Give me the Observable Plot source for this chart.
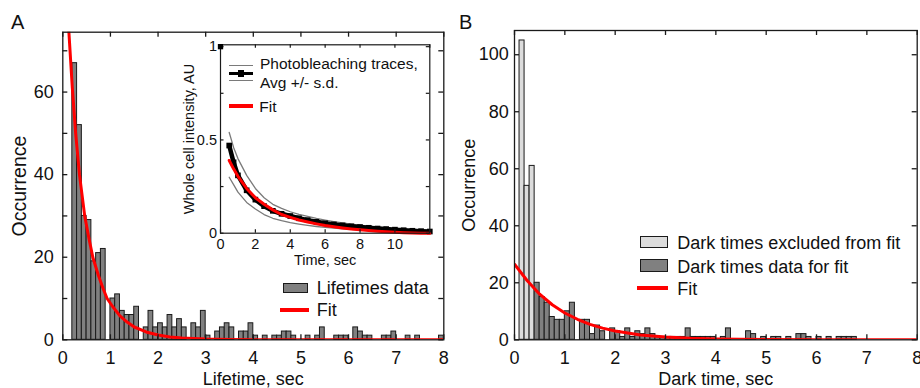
<!DOCTYPE html>
<html><head><meta charset="utf-8">
<script src="https://cdn.jsdelivr.net/npm/d3@7"></script>
<script src="https://cdn.jsdelivr.net/npm/@observablehq/plot@0.6"></script>
<style>
body{margin:0;background:#fff;font-family:"Liberation Sans",Arial,Helvetica,sans-serif;}
#wrap{position:relative;width:920px;height:388px;overflow:hidden;background:#fff}
.abs{position:absolute}
.t{position:absolute;line-height:1;white-space:nowrap;color:#111}
.sw{position:absolute;box-sizing:border-box;border:1.5px solid #1a1a1a}
.ln{position:absolute}
</style></head><body>
<div id="wrap">
  <div id="pa" class="abs" style="left:0;top:0"></div>
  <div id="pb" class="abs" style="left:460px;top:0"></div>
  <div id="pi" class="abs" style="left:170px;top:30px"></div>

  <div class="t" style="left:11px;top:12.4px;font-size:20px">A</div>
  <div class="t" style="left:459px;top:12.4px;font-size:20px">B</div>

  <!-- legend A -->
  <div class="sw" style="left:282.7px;top:282.7px;width:25.6px;height:10.6px;background:#808080"></div>
  <div class="t" style="left:316.7px;top:278.8px;font-size:18px">Lifetimes data</div>
  <div class="ln" style="left:280px;top:308.2px;width:29.3px;height:3.6px;background:#ff0000"></div>
  <div class="t" style="left:316.7px;top:300.8px;font-size:18px">Fit</div>

  <!-- inset legend -->
  <div class="ln" style="left:229.3px;top:65px;width:23.4px;height:1.4px;background:#7a7a7a"></div>
  <div class="ln" style="left:229.3px;top:71.8px;width:23.4px;height:3px;background:#000"></div>
  <div class="ln" style="left:237.8px;top:70px;width:6.5px;height:6.5px;background:#000"></div>
  <div class="ln" style="left:229.3px;top:80px;width:23.4px;height:1.4px;background:#7a7a7a"></div>
  <div class="t" style="left:260px;top:55.9px;font-size:15.5px">Photobleaching traces,</div>
  <div class="t" style="left:260px;top:75.2px;font-size:15.5px">Avg +/- s.d.</div>
  <div class="ln" style="left:229.3px;top:104.3px;width:23.4px;height:3.4px;background:#ff0000"></div>
  <div class="t" style="left:259.3px;top:98.6px;font-size:15.5px">Fit</div>

  <!-- legend B -->
  <div class="sw" style="left:640px;top:236px;width:28.3px;height:12.3px;background:#dcdcdc"></div>
  <div class="t" style="left:677.3px;top:234px;font-size:18px">Dark times excluded from fit</div>
  <div class="sw" style="left:640px;top:259.3px;width:28.3px;height:12.4px;background:#808080"></div>
  <div class="t" style="left:677.3px;top:257.5px;font-size:18px">Dark times data for fit</div>
  <div class="ln" style="left:636.7px;top:286.4px;width:31.6px;height:3.8px;background:#ff0000"></div>
  <div class="t" style="left:677.3px;top:279.8px;font-size:18px">Fit</div>
</div>
<script>
// ---------- DATA ----------
const binWidth = 0.1;
// Panel A: lifetime histogram (bin start, sec) and counts
const lifeBins = [0.2,0.3,0.4,0.5,0.6,0.7,0.8,1.0,1.1,1.2,1.3,1.4,1.5,1.7,1.8,1.9,2.0,2.1,2.2,2.3,2.4,2.5,2.7,2.8,2.9,3.0,3.2,3.3,3.4,3.5,3.7,3.8,3.9,4.0,4.2,4.4,4.5,4.6,4.7,4.8,5.1,5.3,5.4,5.7,5.8,5.9,6.1,6.2,6.3,6.4,6.7,6.8,6.9,7.2,7.4,7.9];
const lifeCounts = [67,52,30,29,19,21,22,10,11,7,6,6,8,3,7,3,4,3,6,3,5,3,4,3,7,1,2,3,4,3,2,2,4,1,1,1,1,2,2,1,1,1,3,1,1,1,3,2,1,1,1,1,2,1,1,1];
// Panel A: exponential fit
const fitATime = [0.12,0.2,0.27,0.35,0.46,0.55,0.63,0.75,0.85,0.93,1.05,1.2,1.35,1.5,1.75,2,2.25,2.5,3,3.5,4,5,6,7,8];
const fitAVal  = [76,61,50,40,30,24.5,20,15.5,12.3,10,8,5.8,4.3,3.1,1.9,1.15,0.7,0.45,0.17,0.07,0.03,0.01,0,0,0];
// Inset: photobleaching traces
const insetTime = [0.5,0.75,1,1.5,2,2.5,3,3.5,4,4.5,5,5.5,6,6.5,7,7.5,8,8.5,9,9.5,10,10.5,11,11.5,12];
const avgVal  = [0.47,0.38,0.31,0.23,0.18,0.145,0.12,0.104,0.092,0.08,0.07,0.061,0.053,0.047,0.042,0.037,0.033,0.029,0.025,0.022,0.019,0.016,0.013,0.011,0.009];
const hiVal   = [0.54,0.46,0.40,0.31,0.24,0.19,0.155,0.133,0.115,0.101,0.09,0.079,0.07,0.062,0.055,0.049,0.043,0.038,0.033,0.029,0.025,0.021,0.018,0.015,0.012];
const loVal   = [0.30,0.26,0.22,0.165,0.13,0.1,0.08,0.067,0.057,0.049,0.042,0.036,0.031,0.027,0.023,0.02,0.017,0.014,0.012,0.01,0.008,0.006,0.005,0.004,0.003];
const fitIVal = [0.39,0.345,0.305,0.24,0.19,0.155,0.125,0.1,0.085,0.071,0.06,0.05,0.041,0.034,0.028,0.023,0.018,0.014,0.011,0.008,0.005,0.003,0.001,0,0];
const avgStartTime = [0], avgStartVal = [1];
// Panel B: dark time histogram
const darkExclBins = [0.1,0.2,0.3];
const darkExclCounts = [105,54,61];
const darkBins = [0.4,0.5,0.6,0.7,0.8,0.9,1.0,1.1,1.3,1.4,1.5,1.6,1.7,1.9,2.0,2.1,2.2,2.3,2.4,2.5,2.6,2.7,2.8,2.9,3.0,3.1,3.2,3.3,3.4,3.5,3.6,3.7,3.8,3.9,4.1,4.2,4.6,4.7,4.9,5.1,5.2,5.4,5.6,5.7,5.8,6.0,6.2,6.4,6.5,6.6,6.7];
const darkCounts = [20,15,13,8,7,7,10,13,7,7,2,5,3,4,3,1,4,1,3,2,4,2,1,1,1,1,1,1,4,1,1,1,1,1,1,4,3,2,1,1,1,1,2,2,1,1,1,1,1,1,1];
const fitBTime = [0,0.25,0.5,0.75,1,1.25,1.5,1.75,2,2.5,3,3.5,4,5,6,7,8];
const fitBVal  = [26.5,20.8,16,12.3,9.4,7.2,5.4,4.1,3.1,1.7,1.0,0.55,0.32,0.1,0.03,0,0];
// Tick values
const xTicksMain = [0,1,2,3,4,5,6,7,8];
const yTicksA = [0,10,20,30,40,50,60,70];
const yLabelsA = [0,20,40,60];
const yTicksB = [0,20,40,60,80,100];
const xTicksInset = [0,2,4,6,8,10,12];
const xLabelsInset = [0,2,4,6,8,10];
const yTicksInset = [0,0.25,0.5,0.75,1];
const yLabelsInset = [0,0.5,1];

// ---------- helpers ----------
const FONT = '"Liberation Sans", Arial, Helvetica, sans-serif';
const zip = (a, b, k1, k2) => a.map((v, i) => ({[k1]: v, [k2]: b[i]}));
const INK = "#1a1a1a";

function frameMarks(o) {
  const fw = o.width - o.ml - o.mr, fh = o.height - o.mt - o.mb;
  const st = {stroke: INK, strokeWidth: o.sw};
  return [
    Plot.ruleX(o.xTicks, {x: d => d, insetTop: fh - o.tick, ...st}),
    Plot.ruleX(o.xTicks, {x: d => d, insetBottom: fh - o.tick, ...st}),
    Plot.ruleY(o.yTicks, {y: d => d, insetRight: fw - o.tick, ...st}),
    Plot.ruleY(o.yTicks, {y: d => d, insetLeft: fw - o.tick, ...st}),
    Plot.frame(st),
    Plot.axisX({ticks: o.xLabels, anchor: "bottom", tickSize: 0, tickPadding: o.xPad, fontSize: o.fs, label: null, tickFormat: d => String(d), fill: "#111"}),
    Plot.axisY({ticks: o.yLabels, anchor: "left", tickSize: 0, tickPadding: o.yPad, fontSize: o.fs, label: null, tickFormat: d => String(d), fill: "#111"})
  ];
}
const centered = {textAnchor: "middle", lineAnchor: "middle", fill: "#111"};

// ---------- Panel A ----------
const A = {width: 460, height: 388, ml: 62.3, mr: 16.7, mt: 31.7, mb: 48.7};
const lifeData = zip(lifeBins, lifeCounts, "t", "n");
const fitA = zip(fitATime, fitAVal, "t", "v");
const plotA = Plot.plot({
  width: A.width, height: A.height,
  marginLeft: A.ml, marginRight: A.mr, marginTop: A.mt, marginBottom: A.mb,
  x: {domain: [0, 8]}, y: {domain: [0, 74.5]},
  style: {fontFamily: FONT, fontSize: "18px", color: "#111", background: "transparent"},
  marks: [
    Plot.rect(lifeData, {x1: "t", x2: d => d.t + binWidth, y1: 0, y2: "n", fill: "#808080", stroke: INK, strokeWidth: 1}),
    Plot.line(fitA, {x: "t", y: "v", stroke: "#ff0000", strokeWidth: 3, clip: true}),
    ...frameMarks({...A, xTicks: xTicksMain, xLabels: xTicksMain, yTicks: yTicksA, yLabels: yLabelsA, tick: 5, sw: 1.3, fs: 18, xPad: 11, yPad: 9}),
    Plot.text(["Lifetime, sec"], {text: d => d, frameAnchor: "bottom", dy: 39.2, fontSize: 18, ...centered}),
    Plot.text(["Occurrence"], {text: d => d, frameAnchor: "left", dx: -43.5, rotate: -90, fontSize: 19.5, ...centered})
  ]
});
document.getElementById("pa").append(plotA);

// ---------- Inset ----------
const I = {width: 265, height: 240, ml: 50, mr: 5.7, mt: 14.3, mb: 37.3};
const hiData = zip(insetTime, hiVal, "t", "v");
const loData = zip(insetTime, loVal, "t", "v");
const avgData = zip(insetTime, avgVal, "t", "v");
const fitIData = zip(insetTime, fitIVal, "t", "v");
const avgStart = zip(avgStartTime, avgStartVal, "t", "v");
const plotI = Plot.plot({
  width: I.width, height: I.height,
  marginLeft: I.ml, marginRight: I.mr, marginTop: I.mt, marginBottom: I.mb,
  x: {domain: [0, 12]}, y: {domain: [0, 1.01]},
  style: {fontFamily: FONT, fontSize: "14.5px", color: "#111", background: "transparent", overflow: "visible"},
  marks: [
    Plot.line(hiData, {x: "t", y: "v", stroke: "#7a7a7a", strokeWidth: 1.3}),
    Plot.line(loData, {x: "t", y: "v", stroke: "#7a7a7a", strokeWidth: 1.3}),
    Plot.line(avgData, {x: "t", y: "v", stroke: "#000", strokeWidth: 4.5}),
    Plot.dot(avgData, {x: "t", y: "v", symbol: "square", r: 3.2, fill: "#000"}),
    Plot.line(fitIData, {x: "t", y: "v", stroke: "#ff0000", strokeWidth: 3}),
    ...frameMarks({...I, xTicks: xTicksInset, xLabels: xLabelsInset, yTicks: yTicksInset, yLabels: yLabelsInset, tick: 3.5, sw: 1.2, fs: 14.5, xPad: 5.5, yPad: 3.5}),
    Plot.dot(avgStart, {x: "t", y: "v", symbol: "square", r: 3, fill: "#000"}),
    Plot.text(["Time, sec"], {text: d => d, frameAnchor: "bottom", dy: 27.5, fontSize: 14.5, ...centered}),
    Plot.text(["Whole cell intensity, AU"], {text: d => d, frameAnchor: "left", dx: -31.3, rotate: -90, fontSize: 14.5, ...centered})
  ]
});
document.getElementById("pi").append(plotI);

// ---------- Panel B ----------
const B = {width: 460, height: 388, ml: 54, mr: 3.3, mt: 30, mb: 48.7};
const exclData = zip(darkExclBins, darkExclCounts, "t", "n");
const darkData = zip(darkBins, darkCounts, "t", "n");
const fitB = zip(fitBTime, fitBVal, "t", "v");
const plotB = Plot.plot({
  width: B.width, height: B.height,
  marginLeft: B.ml, marginRight: B.mr, marginTop: B.mt, marginBottom: B.mb,
  x: {domain: [0, 8]}, y: {domain: [0, 108.5]},
  style: {fontFamily: FONT, fontSize: "18px", color: "#111", background: "transparent"},
  marks: [
    Plot.rect(exclData, {x1: "t", x2: d => d.t + binWidth, y1: 0, y2: "n", fill: "#dcdcdc", stroke: INK, strokeWidth: 1}),
    Plot.rect(darkData, {x1: "t", x2: d => d.t + binWidth, y1: 0, y2: "n", fill: "#808080", stroke: INK, strokeWidth: 1}),
    Plot.line(fitB, {x: "t", y: "v", stroke: "#ff0000", strokeWidth: 3, clip: true}),
    ...frameMarks({...B, xTicks: xTicksMain, xLabels: xTicksMain, yTicks: yTicksB, yLabels: yTicksB, tick: 5, sw: 1.3, fs: 18, xPad: 11, yPad: 5.7}),
    Plot.text(["Dark time, sec"], {text: d => d, frameAnchor: "bottom", dy: 39.2, fontSize: 18, ...centered}),
    Plot.text(["Occurrence"], {text: d => d, frameAnchor: "left", dx: -44.8, rotate: -90, fontSize: 18, ...centered})
  ]
});
document.getElementById("pb").append(plotB);
</script>
</body></html>
